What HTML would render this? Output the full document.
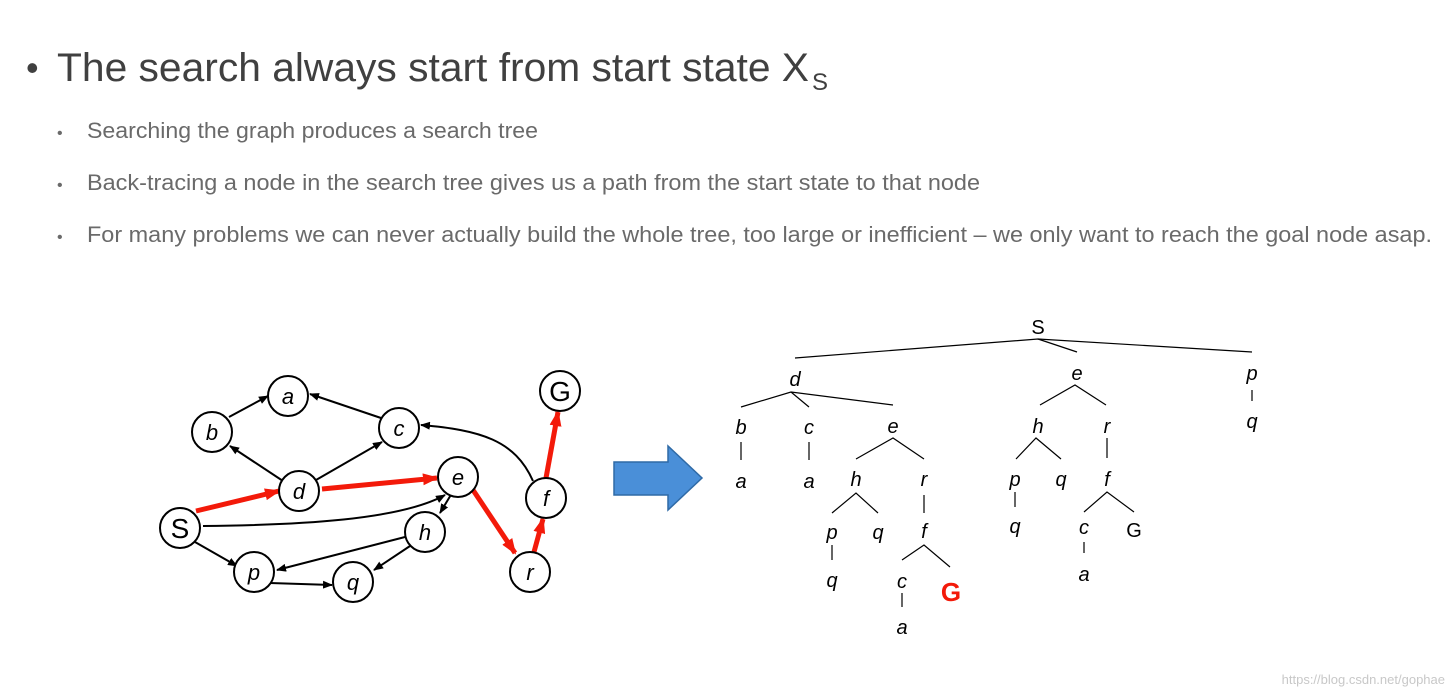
<!DOCTYPE html>
<html><head><meta charset="utf-8"><style>
html,body{margin:0;padding:0;background:#fff;}
svg{display:block;}
</style></head><body>
<svg width="1453" height="695" viewBox="0 0 1453 695" xmlns="http://www.w3.org/2000/svg" font-family="Liberation Sans, sans-serif">
<defs>
<marker id="ak" markerWidth="10" markerHeight="8" refX="9" refY="4" orient="auto" markerUnits="userSpaceOnUse"><path d="M0,0 L10,4 L0,8 z" fill="#000"/></marker>
<marker id="ar" markerWidth="16" markerHeight="12" refX="14" refY="6" orient="auto" markerUnits="userSpaceOnUse"><path d="M0,0 L16,6 L0,12 z" fill="#f31a0a"/></marker>
</defs>
<rect width="1453" height="695" fill="#fff"/>
<text x="26" y="80" font-size="36" fill="#404040">•</text>
<text x="57" y="81" font-size="40" fill="#404040" textLength="752" lengthAdjust="spacingAndGlyphs">The search always start from start state X</text>
<text x="812" y="90" font-size="24" fill="#404040">S</text>
<g font-size="22" fill="#6a6a6a">
<text x="57" y="138" font-size="16">•</text>
<text x="87" y="138" textLength="451" lengthAdjust="spacingAndGlyphs">Searching the graph produces a search tree</text>
<text x="57" y="190" font-size="16">•</text>
<text x="87" y="190" textLength="893" lengthAdjust="spacingAndGlyphs">Back-tracing a node in the search tree gives us a path from the start state to that node</text>
<text x="57" y="242" font-size="16">•</text>
<text x="87" y="242" textLength="1345" lengthAdjust="spacingAndGlyphs">For many problems we can never actually build the whole tree, too large or inefficient – we only want to reach the goal node asap.</text>
</g>
<g stroke="#000" stroke-width="2" fill="none" marker-end="url(#ak)">
<line x1="229" y1="417" x2="268" y2="396"/>
<line x1="381" y1="418" x2="310" y2="394"/>
<line x1="283" y1="481" x2="230" y2="446"/>
<line x1="316" y1="480" x2="382" y2="442"/>
<path d="M533,481 C515,440 480,430 421,425"/>
<path d="M203,526 C300,525 400,520 445,495"/>
<line x1="452" y1="493" x2="440" y2="513"/>
<line x1="405" y1="537" x2="277" y2="570"/>
<line x1="410" y1="546" x2="374" y2="570"/>
<line x1="195" y1="542" x2="237" y2="566"/>
<line x1="270" y1="583" x2="332" y2="585"/>
</g>
<g stroke="#f31a0a" stroke-width="5" fill="none" marker-end="url(#ar)">
<line x1="196" y1="511" x2="279" y2="491"/>
<line x1="322" y1="489" x2="437" y2="478"/>
<line x1="473" y1="490" x2="515" y2="553"/>
<line x1="534" y1="552" x2="543" y2="519"/>
<line x1="546" y1="478" x2="558" y2="412"/>
</g>
<g stroke="#000" stroke-width="2" fill="#fff">
<circle cx="180" cy="528" r="20"/>
<circle cx="288" cy="396" r="20"/>
<circle cx="212" cy="432" r="20"/>
<circle cx="399" cy="428" r="20"/>
<circle cx="299" cy="491" r="20"/>
<circle cx="458" cy="477" r="20"/>
<circle cx="425" cy="532" r="20"/>
<circle cx="254" cy="572" r="20"/>
<circle cx="353" cy="582" r="20"/>
<circle cx="530" cy="572" r="20"/>
<circle cx="546" cy="498" r="20"/>
<circle cx="560" cy="391" r="20"/>
</g>
<g font-size="22" font-style="italic" text-anchor="middle" fill="#000">
<text x="288" y="404">a</text><text x="212" y="440">b</text><text x="399" y="436">c</text>
<text x="299" y="499">d</text><text x="458" y="485">e</text><text x="425" y="540">h</text>
<text x="254" y="580">p</text><text x="353" y="590">q</text><text x="530" y="580">r</text>
<text x="546" y="506">f</text>
</g>
<g font-size="28" text-anchor="middle" fill="#000">
<text x="180" y="538">S</text><text x="560" y="401">G</text>
</g>
<path d="M614,462 L668,462 L668,446 L702,478 L668,510 L668,495 L614,495 Z" fill="#4a8fd8" stroke="#2f6aa6" stroke-width="1.5"/>
<g stroke="#000" stroke-width="1.2" fill="none">
<polyline points="795,358 1038,339 1252,352"/><line x1="1038" y1="339" x2="1077" y2="352"/>
<line x1="1252" y1="390" x2="1252" y2="401"/>
<polyline points="741,407 791,392 893,405"/><line x1="791" y1="392" x2="809" y2="407"/>
<line x1="741" y1="442" x2="741" y2="460"/><line x1="809" y1="442" x2="809" y2="460"/>
<polyline points="856,459 893,438 924,459"/>
<polyline points="832,513 856,493 878,513"/>
<line x1="832" y1="545" x2="832" y2="560"/>
<line x1="924" y1="495" x2="924" y2="513"/>
<polyline points="902,560 924,545 950,567"/>
<line x1="902" y1="593" x2="902" y2="607"/>
<polyline points="1040,405 1075,385 1106,405"/>
<polyline points="1016,459 1036,438 1061,459"/>
<line x1="1015" y1="492" x2="1015" y2="507"/>
<line x1="1107" y1="438" x2="1107" y2="458"/>
<polyline points="1084,512 1107,492 1134,512"/>
<line x1="1084" y1="542" x2="1084" y2="553"/>
</g>
<g font-size="20" font-style="italic" text-anchor="middle" fill="#000">
<text x="795" y="386">d</text><text x="1077" y="380">e</text><text x="1252" y="380">p</text><text x="1252" y="428">q</text>
<text x="741" y="434">b</text><text x="809" y="434">c</text><text x="893" y="433">e</text>
<text x="741" y="488">a</text><text x="809" y="488">a</text>
<text x="856" y="486">h</text><text x="924" y="486">r</text>
<text x="832" y="539">p</text><text x="878" y="539">q</text><text x="924" y="538">f</text>
<text x="832" y="587">q</text><text x="902" y="588">c</text><text x="902" y="634">a</text>
<text x="1038" y="433">h</text><text x="1107" y="433">r</text>
<text x="1015" y="486">p</text><text x="1061" y="486">q</text><text x="1107" y="486">f</text>
<text x="1015" y="533">q</text><text x="1084" y="534">c</text><text x="1084" y="581">a</text>
</g>
<g font-size="20" text-anchor="middle" fill="#000">
<text x="1038" y="334">S</text><text x="1134" y="537">G</text>
</g>
<text x="951" y="601" font-size="26" font-weight="bold" text-anchor="middle" fill="#f31a0a">G</text>
<text x="1445" y="684" font-size="13" text-anchor="end" fill="#c8c8c8">https://blog.csdn.net/gophae</text>
</svg>
</body></html>
